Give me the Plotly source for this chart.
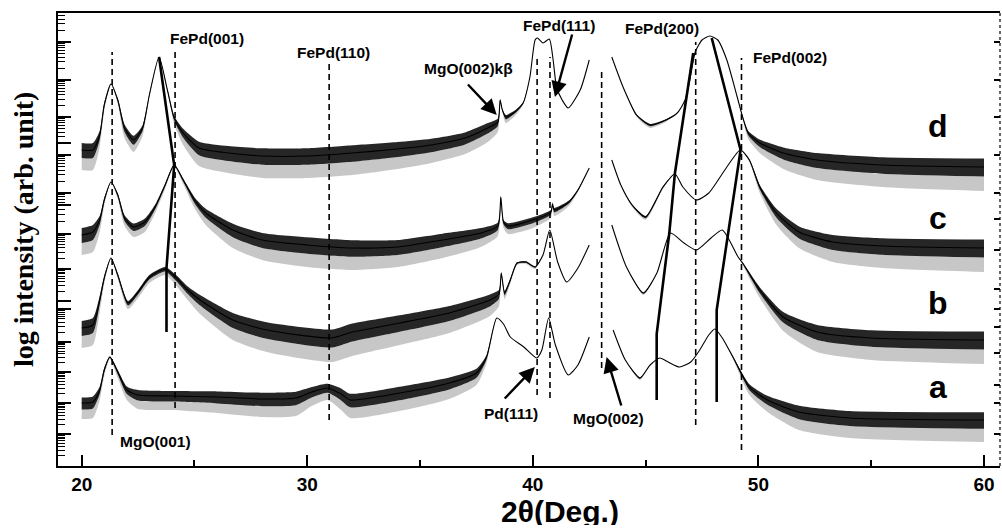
import numpy as np
import plotly.graph_objects as go

# ---------------- data (2theta in deg, log intensity in arb. units) ----------------
# curve d
d1_x = [20.0,20.5,20.8,21.0,21.3,21.6,21.9,22.3,22.7,23.0,23.43,23.8,24.1,24.5,25.2,26.5,28.0,30.0,32.0,34.0,35.5,37.0,38.0,38.45,38.55,38.65,38.8,39.2,39.57,39.87,40.1,40.2,40.45,40.73,40.9,41.05,41.3,41.57,42.1,42.5]
d1_y = [31.6,31.6,33.1,36.1,38.2,36.6,33.8,32.6,33.8,37.1,40.9,37.6,34.8,33.3,31.8,31.3,31.0,31.0,31.3,31.7,32.1,32.8,33.8,34.4,36.6,35.6,34.9,35.4,36.3,38.9,42.6,42.8,42.3,42.7,40.6,37.9,36.6,35.8,37.6,40.6]
d1_n = [1.0,1.0,0.6,0.3,0,0.2,0.5,0.6,0.4,0.1,0,0.1,0.3,0.6,0.9,1.0,1.1,1.1,1.1,1.0,0.9,0.8,0.7,0.5,0.1,0.1,0.3,0.2,0.1,0,0,0,0,0,0,0,0,0,0,0]
d2_x = [43.5,44.0,44.6,45.2,45.9,46.4,46.75,47.0,47.2,47.5,47.85,48.2,48.6,49.06,49.3,49.55,50.06,51.1,52.6,55.5,60.0]
d2_y = [40.9,37.9,35.1,34.1,34.6,35.3,36.6,39.1,41.4,42.6,43.0,42.6,40.6,36.9,34.9,33.3,32.3,31.3,30.6,30.1,29.9]
d2_n = [0,0,0.1,0.15,0.1,0,0,0,0,0,0,0,0,0,0.1,0.3,0.5,0.8,1.0,1.1,1.2]
# curve c
c1_x = [20.0,20.5,20.8,21.0,21.3,21.6,21.9,22.3,22.8,23.3,23.7,24.1,24.5,25.0,25.5,26.7,28.0,30.0,32.0,34.0,36.0,37.7,38.45,38.58,38.7,38.9,40.0,40.8,40.87,40.95,41.6,42.0,42.5]
c1_y = [23.1,23.4,24.6,26.6,28.4,27.1,24.8,23.9,24.4,26.1,28.1,30.1,28.6,26.6,25.3,23.6,22.6,22.1,21.8,21.9,22.6,23.3,24.0,26.9,24.4,24.0,24.6,25.4,26.2,25.6,26.4,27.6,29.8]
c1_n = [1.0,1.0,0.6,0.3,0,0.2,0.4,0.5,0.5,0.3,0.2,0.1,0.2,0.4,0.6,0.9,1.0,1.1,1.1,1.0,0.9,0.7,0.5,0.1,0.3,0.4,0.4,0.3,0.2,0.3,0.2,0.1,0]
c2_x = [43.5,43.9,44.4,45.0,45.77,46.3,46.65,47.25,47.8,48.6,49.2,49.6,50.06,50.8,51.8,53.3,55.5,60.0]
c2_y = [30.6,28.1,26.1,24.9,27.9,29.2,27.9,26.6,27.3,29.9,31.6,30.6,27.9,25.3,23.4,22.4,22.0,21.8]
c2_n = [0,0,0.1,0.15,0.1,0,0,0,0,0,0,0.1,0.3,0.6,0.8,1.0,1.1,1.2]
# curve b
b1_x = [20.0,20.5,20.8,21.0,21.3,21.6,22.05,22.5,23.0,23.7,24.2,24.7,25.25,26.7,28.2,31.1,32.0,34.1,36.3,38.1,38.5,38.6,38.75,39.0,39.3,39.7,40.1,40.45,40.75,41.1,41.5,42.0,42.5]
b1_y = [13.8,14.1,16.6,18.8,20.8,19.1,16.3,17.4,18.9,19.7,18.8,17.6,16.6,14.6,13.6,12.8,13.4,14.3,15.3,16.6,17.2,19.3,17.3,18.6,20.3,20.4,19.9,21.1,23.6,20.4,18.4,19.8,22.1]
b1_n = [1.0,1.0,0.6,0.3,0,0.2,0.3,0.3,0.3,0.3,0.4,0.5,0.7,1.0,1.1,1.2,1.2,1.1,1.0,0.8,0.6,0.1,0.3,0.2,0.1,0.1,0.1,0,0,0,0,0,0]
b2_x = [43.5,44.15,44.9,45.5,46.1,46.7,47.25,47.9,48.4,49.1,49.3,50.06,51.1,52.6,55.0,60.0]
b2_y = [24.1,19.9,17.3,19.3,23.3,22.3,21.6,22.8,23.6,20.9,20.3,17.6,14.9,13.4,12.8,12.6]
b2_n = [0,0,0.1,0,0,0,0,0,0,0,0.1,0.4,0.7,1.0,1.1,1.2]
# curve a
a1_x = [20.0,20.5,20.8,21.0,21.25,21.6,22.0,22.5,24.0,26.0,28.0,29.5,30.2,30.9,31.5,31.9,34.1,36.3,37.5,37.95,38.4,38.7,39.0,39.6,40.17,40.4,40.7,41.0,41.57,42.0,42.5]
a1_y = [6.3,6.4,7.6,9.6,10.9,9.4,7.6,7.1,7.0,6.9,6.7,6.8,7.4,7.8,7.2,6.6,7.3,8.3,9.3,10.9,14.8,14.2,12.9,11.9,10.8,11.6,14.8,12.1,9.1,10.1,12.9]
a1_n = [0.8,0.8,0.5,0.3,0.1,0.3,0.5,0.7,0.7,0.8,0.9,0.9,0.7,0.6,0.8,0.9,0.9,0.8,0.6,0.3,0,0,0,0,0,0,0,0,0,0,0]
a2_x = [43.56,44.1,44.75,45.2,45.63,46.0,46.5,47.0,47.4,47.8,48.07,48.4,48.87,49.6,50.4,51.8,54.05,60.0]
a2_y = [13.6,10.6,8.8,10.1,10.8,10.4,9.9,10.4,11.6,13.1,13.7,12.8,10.9,7.9,6.6,5.4,4.8,4.6]
a2_n = [0,0,0.1,0,0,0,0,0,0,0,0,0,0.1,0.4,0.6,0.9,1.0,1.1]

# peak-shift guide lines
trk1_x = [23.43,24.1,23.76,23.76]; trk1_y = [40.9,30.1,19.8,13.4]
trk2_x = [47.11,46.3,46.05,45.49,45.49]; trk2_y = [41.3,29.3,23.3,13.2,6.6]
trk3_x = [47.93,49.21,48.15,48.15]; trk3_y = [42.8,31.6,15.6,6.4]

# dashed reference lines: position, bottom, top
ref_x = [21.35,24.14,30.97,40.19,40.76,43.05,47.22,49.25]
ref_lo = [3.1,5.8,4.6,7.1,6.8,9.8,4.1,1.6]
ref_hi = [41.4,41.6,40.4,41.1,40.9,39.4,42.4,40.8]

# text labels
lab_text = ["FePd(001)","FePd(110)","MgO(002)kβ","FePd(111)","FePd(200)","FePd(002)","Pd(111)","MgO(002)","MgO(001)"]
lab_x = [25.56,31.15,37.13,41.17,45.72,51.4,39.04,43.37,23.26]
lab_y = [42.8,41.4,39.8,44.1,43.8,40.9,5.3,4.8,2.5]
sample_names = ["d","c","b","a"]
sample_x = [57.96,57.96,57.96,57.96]
sample_y = [34.0,24.8,16.3,7.9]
# arrows: tip (x,y), tail (x,y)
arr_x = [38.4,40.98,40.09,43.27]; arr_y = [35.1,36.9,9.9,10.9]
arr_tx = [37.06,41.76,38.69,43.94]; arr_ty = [38.3,43.3,6.6,5.9]

# axis ticks
xticks = [20,30,40,50,60]
left_major = [42.4,38.6,34.9,32.3,31.1,27.3,26.1,23.2,19.7,16.5,15.7,12.4,9.4,6.3,3.2]
decades = [(42.4,46.2),(38.6,42.4),(34.9,38.6),(31.1,34.9),(27.3,31.1),(23.2,27.3),(19.7,23.2),
           (16.5,19.7),(12.4,15.7),(9.4,12.4),(6.3,9.4),(3.2,6.3),(0.1,3.2)]
right_major = [42.4,38.6,34.9,31.1,27.3,24.7,21.6,17.7,15.7,13.9,11.3,8.1,6.3,3.2]

YMAX = 45.3
left_minor = [lo + (hi - lo) * np.log10(k) for lo, hi in decades for k in range(2, 10)]
left_minor = [v for v in left_minor if 0 < v < YMAX]

fig = go.Figure()

def add_curve(x, y, n):
    x = np.array(x); y = np.array(y); n = np.array(n)
    common = dict(x=x, mode="lines", line=dict(width=0, shape="spline", smoothing=0.6),
                  hoverinfo="skip", showlegend=False)
    fig.add_trace(go.Scatter(y=y - 2.0 * n, **common))
    fig.add_trace(go.Scatter(y=y - 0.8 * n, fill="tonexty", fillcolor="rgba(0,0,0,0.22)", **common))
    fig.add_trace(go.Scatter(y=y + 0.7 * n, fill="tonexty", fillcolor="rgba(0,0,0,0.85)", **common))
    fig.add_trace(go.Scatter(x=x, y=y, mode="lines", showlegend=False,
                             line=dict(color="black", width=1.1, shape="spline", smoothing=0.6)))

for xs, ys, ns in [(d1_x, d1_y, d1_n), (d2_x, d2_y, d2_n), (c1_x, c1_y, c1_n), (c2_x, c2_y, c2_n),
                   (b1_x, b1_y, b1_n), (b2_x, b2_y, b2_n), (a1_x, a1_y, a1_n), (a2_x, a2_y, a2_n)]:
    add_curve(xs, ys, ns)

for tx, ty in [(trk1_x, trk1_y), (trk2_x, trk2_y), (trk3_x, trk3_y)]:
    fig.add_trace(go.Scatter(x=tx, y=ty, mode="lines", showlegend=False,
                             line=dict(color="black", width=2.6)))

for rx, lo, hi in zip(ref_x, ref_lo, ref_hi):
    fig.add_trace(go.Scatter(x=[rx, rx], y=[lo, hi], mode="lines", showlegend=False,
                             line=dict(color="black", width=1.6, dash="6px,4px")))

# right-hand tick axis (overlay)
fig.add_trace(go.Scatter(x=[None], y=[None], yaxis="y2", showlegend=False))

bold = dict(family="Liberation Sans, Arial", color="black", weight="bold")
ann = []
for t, x, y in zip(lab_text, lab_x, lab_y):
    ann.append(dict(x=x, y=y, xref="x", yref="y", text=t, showarrow=False,
                    font=dict(size=15.5, **bold)))
for t, x, y in zip(sample_names, sample_x, sample_y):
    ann.append(dict(x=x, y=y, xref="x", yref="y", text=t, showarrow=False,
                    font=dict(size=32, **bold)))
for x, y, tx, ty in zip(arr_x, arr_y, arr_tx, arr_ty):
    ann.append(dict(x=x, y=y, ax=tx, ay=ty, xref="x", yref="y", axref="x", ayref="y", text="",
                    showarrow=True, arrowhead=2, arrowsize=1.3, arrowwidth=2.4, arrowcolor="black"))
ann.append(dict(x=(560 - 58) / 942, y=(466 - 511) / 453, xref="paper", yref="paper", text="2θ(Deg.)",
                showarrow=False, xanchor="center", yanchor="middle", height=28, valign="middle",
                font=dict(size=30, **bold)))
ann.append(dict(x=-0.0372, y=0.523, xref="paper", yref="paper", text="log intensity (arb. unit)",
                textangle=-90, showarrow=False, xanchor="center", yanchor="middle",
                font=dict(size=28, family="Liberation Serif, Times New Roman", color="black", weight="bold")))

fig.update_layout(
    width=1002, height=528, margin=dict(l=58, r=2, t=13, b=62),
    plot_bgcolor="white", paper_bgcolor="white", showlegend=False,
    annotations=ann,
    xaxis=dict(range=[18.95, 60.71], showgrid=False, zeroline=False, showline=True, linecolor="black",
               linewidth=2, mirror=True, ticks="inside", ticklen=11, tickwidth=2, tickcolor="black",
               tickvals=xticks, tickfont=dict(size=19, **bold),
               minor=dict(tickvals=[25, 35, 45, 55], ticks="inside", ticklen=6, tickwidth=2, tickcolor="black")),
    yaxis=dict(range=[0, YMAX], showgrid=False, zeroline=False, showline=True, linecolor="black",
               linewidth=2, ticks="inside", ticklen=13, tickwidth=1.6, tickcolor="black",
               tickvals=left_major, showticklabels=False,
               minor=dict(tickvals=left_minor, ticks="inside", ticklen=7, tickwidth=1.3, tickcolor="black")),
    yaxis2=dict(range=[0, YMAX], overlaying="y", side="right", showgrid=False, zeroline=False,
                showline=False, ticks="inside", ticklen=6, tickwidth=1.6, tickcolor="black",
                tickvals=right_major, showticklabels=False),
    shapes=[dict(type="line", xref="paper", yref="paper", x0=1, x1=1, y0=0, y1=1,
                 line=dict(color="black", width=1.2, dash="dot"))],
)

fig.write_html("out.html", config={"displayModeBar": False},
               post_script="document.body.style.margin='0';document.body.style.overflow='hidden';")
